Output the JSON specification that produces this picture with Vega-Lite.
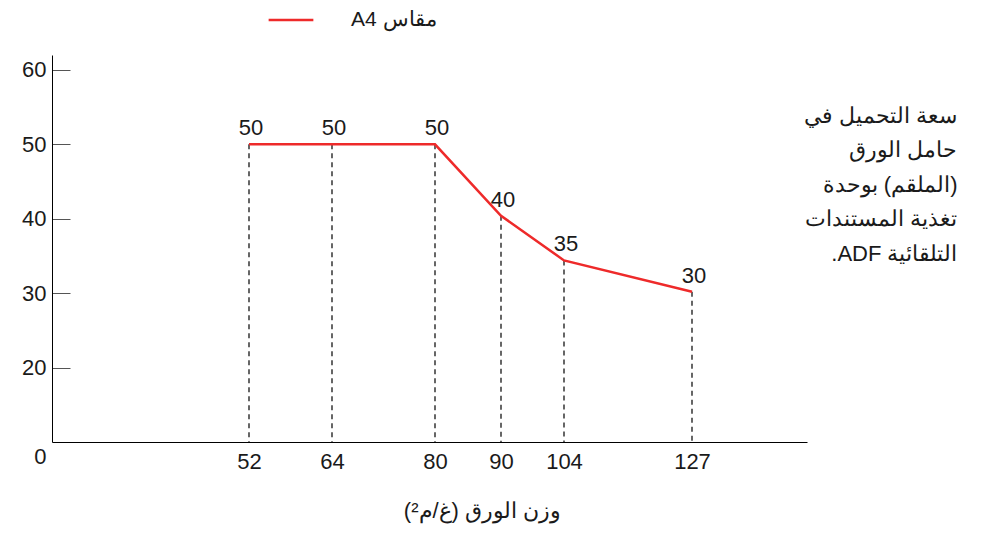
{
  "$schema": "https://vega.github.io/schema/vega-lite/v6.json",
  "width": 755,
  "height": 387,
  "autosize": "none",
  "padding": {"left": 52, "top": 55, "right": 177, "bottom": 91},
  "background": "white",
  "config": {
    "font": "Liberation Sans",
    "view": {"stroke": null},
    "axis": {"grid": false}
  },
  "data": {
    "values": [
      {"weight": 52, "capacity": 50, "label": "50"},
      {"weight": 64, "capacity": 50, "label": "50"},
      {"weight": 80, "capacity": 50, "label": "50"},
      {"weight": 90, "capacity": 40.4, "label": "40"},
      {"weight": 104, "capacity": 34.4, "label": "35"},
      {"weight": 127, "capacity": 30.2, "label": "30"}
    ]
  },
  "encoding": {
    "x": {
      "field": "weight",
      "type": "quantitative",
      "scale": {
        "domain": [0, 52, 64, 80, 90, 104, 127, 150],
        "range": [0, 197, 280, 383, 449, 512, 640, 755],
        "zero": false,
        "nice": false
      },
      "axis": {
        "values": [52, 64, 80, 90, 104, 127],
        "ticks": false,
        "domainColor": "black",
        "domainWidth": 1,
        "labelFontSize": 22,
        "labelPadding": 9,
        "labelColor": "#1a1a1a",
        "labelFlush": false,
        "title": "\u202bوزن الورق (غ/م²)\u202c",
        "titleFontSize": 22,
        "titleFontWeight": "normal",
        "titleColor": "#1a1a1a",
        "titleX": 430,
        "titleY": 68,
        "titleAlign": "center",
        "titleBaseline": "middle"
      }
    },
    "y": {
      "field": "capacity",
      "type": "quantitative",
      "scale": {"domain": [10, 62], "zero": false, "nice": false},
      "axis": {
        "values": [10, 20, 30, 40, 50, 60],
        "labelExpr": "datum.value == 10 ? '0' : datum.label",
        "tickSize": -18,
        "tickColor": {"condition": {"test": "datum.value == 10", "value": "transparent"}, "value": "#555"},
        "labelOffset": {"condition": {"test": "datum.value == 10", "value": 14}, "value": 0},
        "labelPadding": 24,
        "labelFontSize": 22,
        "labelColor": "#1a1a1a",
        "labelFlush": false,
        "domainColor": "black",
        "title": [
          "\u202bسعة التحميل في\u202c",
          "\u202bحامل الورق\u202c",
          "\u202b(الملقم) بوحدة\u202c",
          "\u202bتغذية المستندات\u202c",
          "\u202bالتلقائية ADF.\u202c"
        ],
        "titleAngle": 0,
        "titleAlign": "right",
        "titleBaseline": "top",
        "titleX": 905,
        "titleY": 50,
        "titleLineHeight": 34.5,
        "titleFontSize": 22,
        "titleFontWeight": "normal",
        "titleColor": "#1a1a1a"
      }
    }
  },
  "layer": [
    {
      "mark": {"type": "rule", "strokeDash": [5, 4], "color": "black", "strokeWidth": 1.2},
      "encoding": {"y2": {"datum": 10}}
    },
    {
      "mark": {"type": "line", "strokeWidth": 2.5},
      "encoding": {
        "color": {
          "datum": "\u202bمقاس A4\u202c",
          "scale": {"range": ["#ee2a2a"]},
          "legend": {
            "orient": "none",
            "legendX": 215,
            "legendY": -59,
            "title": null,
            "symbolType": "stroke",
            "symbolSize": 2000,
            "symbolStrokeWidth": 2.5,
            "labelFontSize": 21,
            "labelOffset": 36,
            "labelColor": "#1a1a1a"
          }
        }
      }
    },
    {
      "mark": {"type": "text", "fontSize": 22, "dy": -16, "dx": 2, "color": "#1a1a1a"},
      "encoding": {"text": {"field": "label"}}
    }
  ]
}
